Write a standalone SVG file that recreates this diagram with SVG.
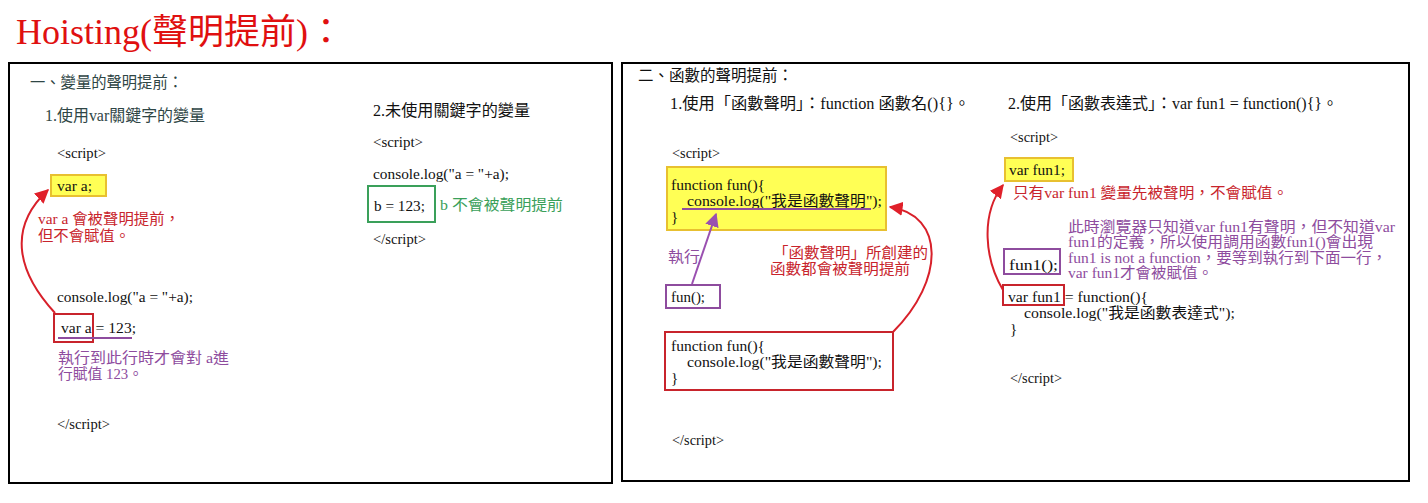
<svg xmlns="http://www.w3.org/2000/svg" width="1428" height="503" viewBox="0 0 1428 503">
<defs>
<marker id="ar" viewBox="0 0 10 10" refX="9" refY="5" markerWidth="7" markerHeight="7" orient="auto" markerUnits="strokeWidth"><path d="M0,0 L10,5 L0,10 z" fill="#e0202a"/></marker>
<marker id="ap" viewBox="0 0 10 10" refX="9" refY="5" markerWidth="7" markerHeight="7" orient="auto" markerUnits="strokeWidth"><path d="M0,0 L10,5 L0,10 z" fill="#9a50b0"/></marker>
<style>
text{font-family:"Liberation Serif","Noto Sans CJK TC",serif;font-size:15px;fill:#111}
.h{font-size:16px;fill:#2f4646}
.h2{font-size:16px;fill:#111}
.r{fill:#c8242c;font-size:15px}
.p{fill:#8e4c9e;font-size:15px}
.g{fill:#3aa05a;font-size:15px}
.frame{fill:#fff;stroke:#000;stroke-width:2}
.yel{fill:#ffff55;stroke:#e8c030;stroke-width:2}
.rb{fill:none;stroke:#c8242c;stroke-width:2}
.pb{fill:none;stroke:#8e4c9e;stroke-width:2}
.gb{fill:none;stroke:#3aa05a;stroke-width:2}
.ra{fill:none;stroke:#d8202a;stroke-width:2;marker-end:url(#ar)}
.pa{fill:none;stroke:#9a50b0;stroke-width:2;marker-end:url(#ap)}
</style>
</defs>
<rect width="1428" height="503" fill="#fff"/>
<text x="16" y="44" textLength="328" lengthAdjust="spacingAndGlyphs" style="font-size:35px;fill:#e01010">Hoisting(聲明提前)：</text>

<g id="panel1">
<rect class="frame" x="9" y="63" width="603" height="420"/>
<text class="h" x="30" y="88" textLength="153" lengthAdjust="spacingAndGlyphs">一、變量的聲明提前：</text>
<text class="h" x="45" y="121" textLength="160" lengthAdjust="spacingAndGlyphs">1.使用var關鍵字的變量</text>
<text x="57" y="158" fill="#333" textLength="49" lengthAdjust="spacingAndGlyphs">&lt;script&gt;</text>
<g id="var-a-decl"><rect class="yel" x="51" y="175" width="55" height="21"/><text x="57" y="191" textLength="35" lengthAdjust="spacingAndGlyphs">var a;</text></g>
<text class="r" x="38" y="224" textLength="142" lengthAdjust="spacingAndGlyphs">var a 會被聲明提前，</text>
<text class="r" x="38" y="241" textLength="92" lengthAdjust="spacingAndGlyphs">但不會賦值。</text>
<text x="57" y="302" textLength="136" lengthAdjust="spacingAndGlyphs">console.log("a = "+a);</text>
<g id="var-a-assign"><rect class="rb" x="54" y="314" width="39" height="28"/><text x="61" y="333" textLength="75" lengthAdjust="spacingAndGlyphs">var a = 123;</text><line x1="58" y1="338" x2="132" y2="338" stroke="#8e4c9e" stroke-width="2"/></g>
<text class="p" x="58" y="363" textLength="171" lengthAdjust="spacingAndGlyphs">執行到此行時才會對 a進</text>
<text class="p" x="58" y="379" textLength="85" lengthAdjust="spacingAndGlyphs">行賦值 123。</text>
<text x="57" y="429" fill="#333" textLength="53" lengthAdjust="spacingAndGlyphs">&lt;/script&gt;</text>

<text class="h2" x="373" y="116" textLength="157" lengthAdjust="spacingAndGlyphs">2.未使用關鍵字的變量</text>
<text x="373" y="147" textLength="50" lengthAdjust="spacingAndGlyphs">&lt;script&gt;</text>
<text x="373" y="179" textLength="136" lengthAdjust="spacingAndGlyphs">console.log("a = "+a);</text>
<g id="b-assign"><rect class="gb" x="368" y="186" width="67" height="36"/><text x="374" y="211" textLength="51" lengthAdjust="spacingAndGlyphs">b = 123;</text></g>
<text class="g" x="440" y="210" textLength="123" lengthAdjust="spacingAndGlyphs">b 不會被聲明提前</text>
<text x="373" y="244" textLength="53" lengthAdjust="spacingAndGlyphs">&lt;/script&gt;</text>
</g>

<g id="panel2">
<rect class="frame" x="622" y="63" width="787" height="418"/>
<text class="h2" x="638" y="81" textLength="155" lengthAdjust="spacingAndGlyphs">二、函數的聲明提前：</text>
<text class="h2" x="670" y="109" textLength="300" lengthAdjust="spacingAndGlyphs">1.使用「函數聲明」：function 函數名(){}。</text>
<text x="672" y="158" textLength="48" lengthAdjust="spacingAndGlyphs">&lt;script&gt;</text>
<g id="fun-hoisted"><rect class="yel" x="667" y="167" width="219" height="63"/>
<text x="671" y="190" textLength="94" lengthAdjust="spacingAndGlyphs">function fun(){</text>
<text x="687" y="206" textLength="195" lengthAdjust="spacingAndGlyphs">console.log("我是函數聲明");</text>
<text x="671" y="222">}</text>
<line x1="682" y1="209" x2="871" y2="209" stroke="#8e4c9e" stroke-width="2"/></g>
<text class="p" x="668" y="262" textLength="32" lengthAdjust="spacingAndGlyphs">執行</text>
<g id="fun-call"><rect class="pb" x="666" y="285" width="54" height="23"/><text x="671" y="302" textLength="34" lengthAdjust="spacingAndGlyphs">fun();</text></g>
<text class="r" x="773" y="258" textLength="155" lengthAdjust="spacingAndGlyphs">「函數聲明」所創建的</text>
<text class="r" x="770" y="274" textLength="140" lengthAdjust="spacingAndGlyphs">函數都會被聲明提前</text>
<g id="fun-decl"><rect class="rb" x="665" y="332" width="228" height="58"/>
<text x="671" y="351" textLength="94" lengthAdjust="spacingAndGlyphs">function fun(){</text>
<text x="687" y="367" textLength="195" lengthAdjust="spacingAndGlyphs">console.log("我是函數聲明");</text>
<text x="671" y="383">}</text></g>
<text x="672" y="445" textLength="52" lengthAdjust="spacingAndGlyphs">&lt;/script&gt;</text>

<text class="h2" x="1008" y="109" textLength="330" lengthAdjust="spacingAndGlyphs">2.使用「函數表達式」：var fun1 = function(){}。</text>
<text x="1010" y="142" textLength="48" lengthAdjust="spacingAndGlyphs">&lt;script&gt;</text>
<g id="fun1-decl"><rect class="yel" x="1005" y="158" width="68" height="23"/><text x="1009" y="175" textLength="56" lengthAdjust="spacingAndGlyphs">var fun1;</text></g>
<text class="r" x="1013" y="198" textLength="275" lengthAdjust="spacingAndGlyphs">只有var fun1 變量先被聲明，不會賦值。</text>
<text class="p" x="1068" y="232" textLength="327" lengthAdjust="spacingAndGlyphs">此時瀏覽器只知道var fun1有聲明，但不知道var</text>
<text class="p" x="1068" y="247" textLength="305" lengthAdjust="spacingAndGlyphs">fun1的定義，所以使用調用函數fun1()會出現</text>
<text class="p" x="1068" y="263" textLength="319" lengthAdjust="spacingAndGlyphs">fun1 is not a function，要等到執行到下面一行，</text>
<text class="p" x="1068" y="278" textLength="145" lengthAdjust="spacingAndGlyphs">var fun1才會被賦值。</text>
<g id="fun1-call"><rect class="pb" x="1004" y="249" width="56" height="25"/><text x="1009" y="270" textLength="49" lengthAdjust="spacingAndGlyphs">fun1();</text></g>
<g id="fun1-assign"><rect class="rb" x="1003" y="285" width="61" height="20"/>
<text x="1008" y="302" textLength="140" lengthAdjust="spacingAndGlyphs">var fun1 = function(){</text>
<text x="1024" y="318" textLength="211" lengthAdjust="spacingAndGlyphs">console.log("我是函數表達式");</text>
<text x="1010" y="334">}</text></g>
<text x="1010" y="383" textLength="52" lengthAdjust="spacingAndGlyphs">&lt;/script&gt;</text>
</g>

<g id="connectors">
<path class="ra" d="M55,313 C20,275 5,230 48,190"/>
<path class="pa" d="M692,284 L716,214"/>
<path class="ra" d="M893,332 C945,280 945,215 890,207"/>
<path class="ra" d="M1003,290 C985,260 980,215 1003,185"/>
</g>
</svg>
